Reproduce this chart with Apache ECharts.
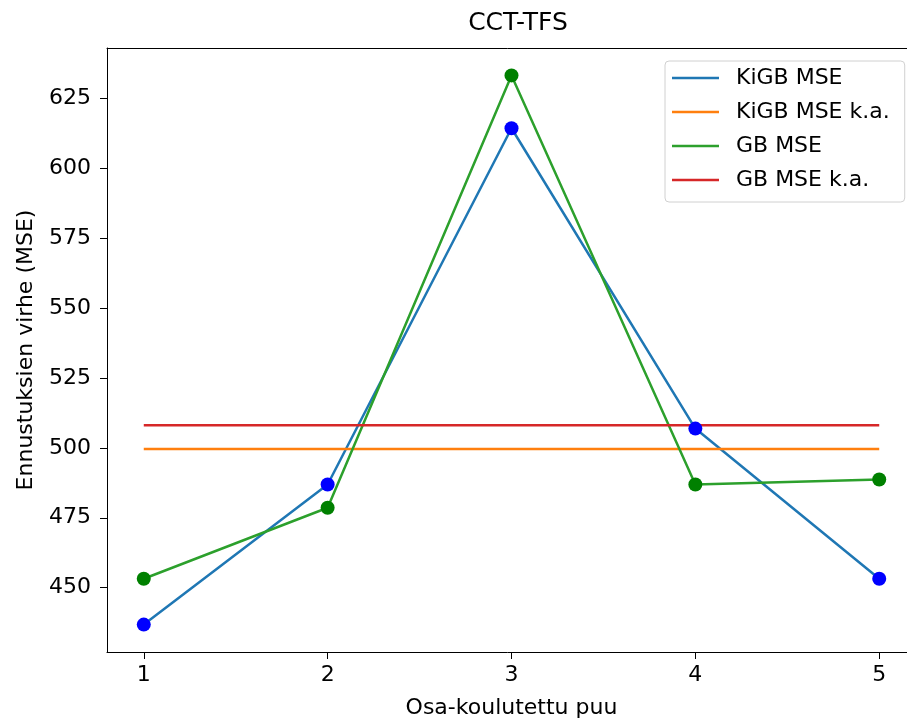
<!DOCTYPE html>
<html>
<head>
<meta charset="utf-8">
<script src="https://cdn.jsdelivr.net/npm/echarts@6/dist/echarts.min.js"></script>
<style>
    html, body { margin: 0; padding: 0; background: #fff; }
    #chart { width: 907px; height: 719px; }
</style>
</head>
<body>
<div id="chart"></div>
<script>
// x: osa-koulutettu puu
var trees = [1, 2, 3, 4, 5];
var xTicks = [1, 2, 3, 4, 5];
var yTicks = [450, 475, 500, 525, 550, 575, 600, 625];
// MSE arvot
var kigbMse = [436.8, 486.9, 614.3, 506.9, 453.2];
var gbMse = [453.2, 478.6, 633.2, 486.9, 488.7];
// keskiarvot (k.a.)
var kigbMean = 499.6;
var gbMean = 508.1;

function pairs(xs, ys) {
    var out = [];
    for (var i = 0; i < xs.length; i++) {
        out.push([xs[i], ys[i]]);
    }
    return out;
}
var first = trees[0], last = trees[trees.length - 1];

var font = 'DejaVu Sans';
// kuva on rajattu oikealta, piirtoalue jatkuu yli reunan
var xMin = 0.8, xMax = 5.2;

var chart = echarts.init(document.getElementById('chart'));
chart.setOption({
    animation: false,
    textStyle: { fontFamily: font },
    title: {
        text: 'CCT-TFS',
        left: 513,
        textAlign: 'center',
        top: 6,
        textStyle: { fontFamily: font, fontSize: 25, fontWeight: 'normal', color: '#000' }
    },
    legend: {
        orient: 'vertical',
        left: 665,
        top: 61,
        padding: [4, 15, 9, 7],
        itemGap: 8,
        itemWidth: 47,
        itemHeight: 2.5,
        icon: 'rect',
        borderColor: '#d0d0d0',
        borderWidth: 1,
        borderRadius: 4,
        data: ['KiGB MSE', 'KiGB MSE k.a.', 'GB MSE', 'GB MSE k.a.'],
        textStyle: { fontFamily: font, fontSize: 22, color: '#000', lineHeight: 26, padding: [0, 0, 0, 12] }
    },
    grid: {
        left: 107,
        top: 48,
        width: 809,
        height: 604,
        outerBoundsMode: 'none',
        containLabel: false,
        show: false
    },
    xAxis: [{
        type: 'value',
        min: xMin,
        max: xMax,
        name: 'Osa-koulutettu puu',
        nameLocation: 'middle',
        nameGap: 45,
        nameTextStyle: { fontFamily: font, fontSize: 22, color: '#000' },
        splitLine: { show: false },
        axisLine: { lineStyle: { color: '#000', width: 1 } },
        axisTick: { customValues: xTicks, length: 7, lineStyle: { color: '#000' } },
        axisLabel: { customValues: xTicks, fontFamily: font, fontSize: 22, color: '#000', margin: 12 }
    }, {
        type: 'value',
        position: 'top',
        min: xMin,
        max: xMax,
        splitLine: { show: false },
        axisLine: { show: true, lineStyle: { color: '#000', width: 1 } },
        axisTick: { show: false },
        axisLabel: { show: false }
    }],
    yAxis: {
        type: 'value',
        min: 427,
        max: 643,
        name: 'Ennustuksien virhe (MSE)',
        nameLocation: 'middle',
        nameGap: 70,
        nameTextStyle: { fontFamily: font, fontSize: 22, color: '#000' },
        splitLine: { show: false },
        axisLine: { show: true, lineStyle: { color: '#000', width: 1 } },
        axisTick: { show: true, customValues: yTicks, length: 7, lineStyle: { color: '#000' } },
        axisLabel: { customValues: yTicks, fontFamily: font, fontSize: 22, color: '#000', margin: 16 }
    },
    series: [
        {
            name: 'KiGB MSE', type: 'line', data: pairs(trees, kigbMse),
            symbol: 'none', color: '#1f77b4',
            lineStyle: { color: '#1f77b4', width: 2.5 }, z: 2
        },
        {
            name: 'KiGB MSE k.a.', type: 'line', data: [[first, kigbMean], [last, kigbMean]],
            symbol: 'none', color: '#ff7f0e',
            lineStyle: { color: '#ff7f0e', width: 2.5 }, z: 2
        },
        {
            name: 'GB MSE', type: 'line', data: pairs(trees, gbMse),
            symbol: 'none', color: '#2ca02c',
            lineStyle: { color: '#2ca02c', width: 2.5 }, z: 2
        },
        {
            name: 'GB MSE k.a.', type: 'line', data: [[first, gbMean], [last, gbMean]],
            symbol: 'none', color: '#d62728',
            lineStyle: { color: '#d62728', width: 2.5 }, z: 2
        },
        {
            name: 'kigb pisteet', type: 'scatter', data: pairs(trees, kigbMse),
            symbolSize: 14, itemStyle: { color: '#0000ff', opacity: 1 }, z: 3
        },
        {
            name: 'gb pisteet', type: 'scatter', data: pairs(trees, gbMse),
            symbolSize: 14, itemStyle: { color: '#008000', opacity: 1 }, z: 3
        }
    ]
});
</script>
</body>
</html>
